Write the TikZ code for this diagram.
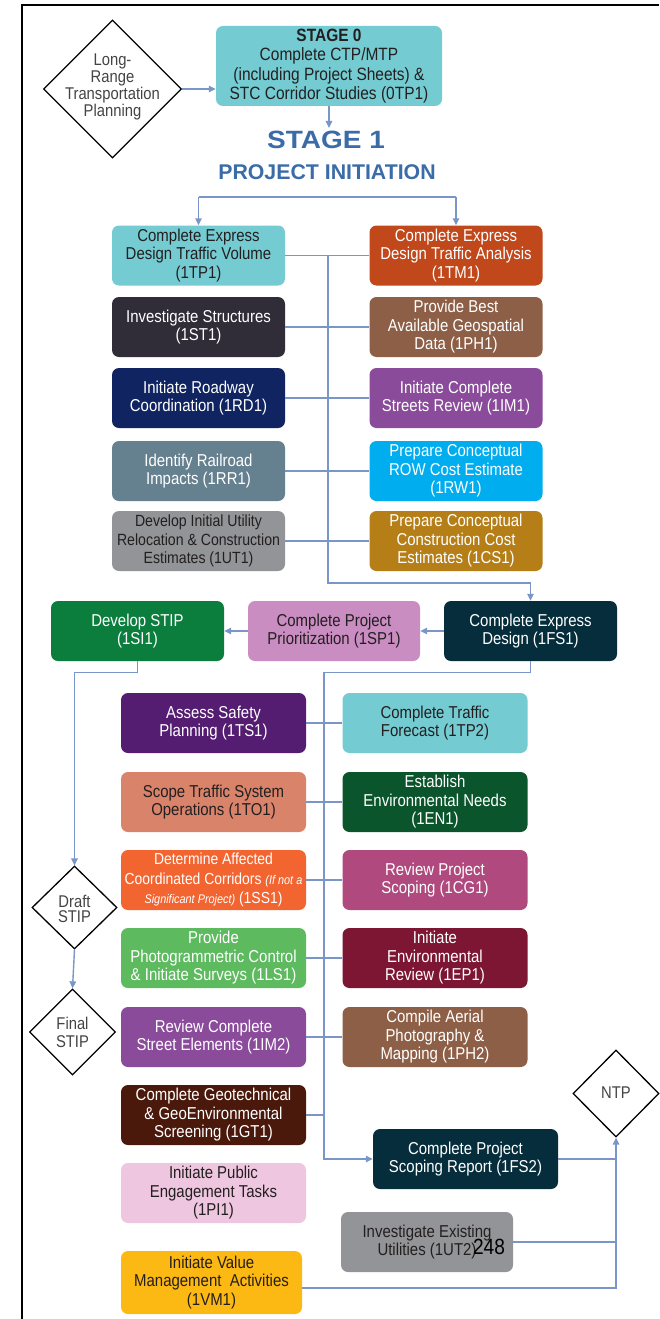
\documentclass[tikz,border=0pt]{standalone}
\usepackage{fontspec}
\setmainfont{Liberation Sans}[FakeStretch=0.87]
\newfontfamily\plainsans{Liberation Sans}
\newfontfamily\widesans{Liberation Sans}[FakeStretch=1.12]
\usetikzlibrary{arrows.meta,shapes.geometric,calc}
\definecolor{conn}{HTML}{7A96C9}
\definecolor{txtdark}{HTML}{231F20}
\definecolor{diatxt}{HTML}{444444}
\definecolor{head}{HTML}{3B6CA8}
\definecolor{cteal}{HTML}{74CCD2}
\definecolor{ctm}{HTML}{C1481B}
\definecolor{cst}{HTML}{302D38}
\definecolor{cph}{HTML}{8E5F47}
\definecolor{crd}{HTML}{0F2461}
\definecolor{cim}{HTML}{8B4B9B}
\definecolor{crr}{HTML}{65808F}
\definecolor{crw}{HTML}{00ADEE}
\definecolor{cgray}{HTML}{939497}
\definecolor{ccs}{HTML}{B57E17}
\definecolor{csi}{HTML}{0B7E3E}
\definecolor{csp}{HTML}{C98DC1}
\definecolor{cfs}{HTML}{062D3C}
\definecolor{cts}{HTML}{541D72}
\definecolor{cto}{HTML}{D9836A}
\definecolor{cen}{HTML}{0A552B}
\definecolor{css}{HTML}{F26531}
\definecolor{ccg}{HTML}{B04A7E}
\definecolor{cls}{HTML}{5DBA5F}
\definecolor{cep}{HTML}{7D1632}
\definecolor{cgt}{HTML}{4A190B}
\definecolor{cpi}{HTML}{EEC6E0}
\definecolor{cvm}{HTML}{FDB913}
\newcommand{\boxfont}{\fontsize{17.2}{18.5}\selectfont}
\begin{document}
\begin{tikzpicture}[x=1pt,y=-1pt,
  box/.style={rectangle, rounded corners=7pt, minimum height=60pt, inner xsep=0pt, inner ysep=2pt, align=center, text=white, font=\boxfont},
  dk/.style={text=txtdark},
  topw/.style={minimum width=173pt},
  loww/.style={minimum width=185pt},
  dia/.style={diamond, draw=black, line width=1.3pt, aspect=1, inner sep=0pt},
  diatext/.style={align=center, text=diatxt, font=\fontsize{17}{17}\selectfont},
  line/.style={draw=conn, line width=1.4pt},
  arr/.style={line, -{Triangle[length=7pt,width=6.5pt]}}
]
\useasboundingbox (0,0) rectangle (659,1319);
\fill[white] (0,0) rectangle (659,1319);
% frame
\draw[line width=2.2pt] (22,1319) -- (22,5) -- (659,5);

% Stage 0
\node[dia, minimum width=138pt, minimum height=138pt] (lrtp) at (112.5,89) {};
\node[diatext] (lrtpt) at (112.5,87) {Long-\\Range\\Transportation\\Planning};
\node[box, dk, fill=cteal, minimum width=226pt, minimum height=80pt, font=\fontsize{17.8}{19.5}\selectfont] (s0) at (329,66)
  {{\bfseries STAGE 0}\\Complete CTP/MTP\\(including Project Sheets) \&\\STC Corridor Studies (0TP1)};
\draw[arr] (lrtp.east) -- (s0.west |- lrtp.east);

\node[text=head, font=\widesans\bfseries\fontsize{25}{28}\selectfont, inner sep=3pt] (s1) at (326,140) {STAGE 1};
\node[text=head, font=\plainsans\bfseries\fontsize{21.3}{24}\selectfont] (pi) at (327,172.5) {PROJECT INITIATION};
\draw[arr] (s0.south) -- (s0.south |- s1.north);

% top columns
\node[box, dk, topw, fill=cteal] (tp1) at (198.5,255.5) {Complete Express\\Design Traffic Volume\\(1TP1)};
\node[box, topw, fill=ctm] (tm1) at (456,255.5) {Complete Express\\Design Traffic Analysis\\(1TM1)};
\node[box, topw, fill=cst] (st1) at (198.5,327) {Investigate Structures\\(1ST1)};
\node[box, topw, fill=cph] (ph1) at (456,327) {Provide Best\\Available Geospatial\\Data (1PH1)};
\node[box, topw, fill=crd] (rd1) at (198.5,398) {Initiate Roadway\\Coordination (1RD1)};
\node[box, topw, fill=cim] (im1) at (456,398) {Initiate Complete\\Streets Review (1IM1)};
\node[box, topw, fill=crr] (rr1) at (198.5,471) {Identify Railroad\\Impacts (1RR1)};
\node[box, topw, fill=crw] (rw1) at (456,471) {Prepare Conceptual\\ROW Cost Estimate\\(1RW1)};
\node[box, dk, topw, fill=cgray, font=\fontsize{16.2}{18.5}\selectfont] (ut1) at (198.5,541) {Develop Initial Utility\\Relocation \& Construction\\Estimates (1UT1)};
\node[box, topw, fill=ccs] (cs1) at (456,541) {Prepare Conceptual\\Construction Cost\\Estimates (1CS1)};

\coordinate (hl) at (198.5,197);
\coordinate (hr) at (456,197);
\draw[line] (hl) -- (hr);
\draw[arr] (hl) -- (tp1.north);
\draw[arr] (hr) -- (tm1.north);

\foreach \a/\b in {tp1/tm1, st1/ph1, rd1/im1, rr1/rw1, ut1/cs1}
  \draw[line] (\a.east) -- (\b.west);

% middle row
\node[box, topw, fill=csi] (si1) at (137.5,631) {Develop STIP\\(1SI1)};
\node[box, dk, minimum width=172pt, fill=csp] (sp1) at (334,631) {Complete Project\\Prioritization (1SP1)};
\node[box, topw, fill=cfs] (fs1) at (530.5,631) {Complete Express\\Design (1FS1)};

\coordinate (t1) at (328,255.5);
\coordinate (t2) at (328,583);
\draw[arr] (t1) -- (t2) -| (fs1.north);
\draw[arr] (fs1.west) -- (sp1.east);
\draw[arr] (sp1.west) -- (si1.east);

% diamonds left
\node[dia, minimum width=85pt, minimum height=83pt] (draft) at (74.5,907.5) {};
\node[diatext, font=\fontsize{17}{15.5}\selectfont] at (74.5,909) {Draft\\STIP};
\node[dia, minimum width=86pt, minimum height=86pt] (final) at (72.5,1032) {};
\node[diatext, font=\fontsize{17}{18}\selectfont] at (72.5,1032) {Final\\STIP};
\draw[arr] (si1.south) -- ++(0,11) -| (draft.north);
\draw[arr] (draft.south) -- (final.north);

% lower columns
\node[box, loww, fill=cts] (ts1) at (213.5,723) {Assess Safety\\Planning (1TS1)};
\node[box, dk, loww, fill=cteal] (tp2) at (435,723) {Complete Traffic\\Forecast (1TP2)};
\node[box, dk, loww, fill=cto] (to1) at (213.5,802) {Scope Traffic System\\Operations (1TO1)};
\node[box, loww, fill=cen] (en1) at (435,802) {Establish\\Environmental Needs\\(1EN1)};
\node[box, loww, fill=css, font=\fontsize{16}{19.5}\selectfont] (ss1) at (213.5,880)
  {Determine Affected\\Coordinated Corridors {\itshape\fontsize{12.5}{14}\selectfont (If not a}\\{\itshape\fontsize{12.5}{14}\selectfont Significant Project)} (1SS1)};
\node[box, loww, fill=ccg] (cg1) at (435,880) {Review Project\\Scoping (1CG1)};
\node[box, loww, fill=cls] (ls1) at (213.5,958) {Provide\\Photogrammetric Control\\\& Initiate Surveys (1LS1)};
\node[box, loww, fill=cep] (ep1) at (435,958) {Initiate\\Environmental\\Review (1EP1)};
\node[box, loww, fill=cim] (im2) at (213.5,1037) {Review Complete\\Street Elements (1IM2)};
\node[box, loww, fill=cph] (ph2) at (435,1037) {Compile Aerial\\Photography \&\\Mapping (1PH2)};
\node[box, loww, fill=cgt] (gt1) at (213.5,1115) {Complete Geotechnical\\\& GeoEnvironmental\\Screening (1GT1)};
\node[box, dk, loww, fill=cpi] (pi1) at (213.5,1193) {Initiate Public\\Engagement Tasks\\(1PI1)};
\node[box, dk, minimum width=181pt, minimum height=63pt, fill=cvm] (vm1) at (211.5,1282.5) {Initiate Value\\Management~ Activities\\(1VM1)};
\node[box, loww, fill=cfs] (fs2) at (465.5,1159) {Complete Project\\Scoping Report (1FS2)};
\node[box, dk, minimum width=172pt, fill=cgray] (ut2) at (427,1242) {Investigate Existing\\Utilities (1UT2)};
\node[dia, minimum width=86pt, minimum height=87pt] (ntp) at (616,1093.5) {};
\node[diatext] at (616,1093) {NTP};

\foreach \a/\b in {ts1/tp2, to1/en1, ss1/cg1, ls1/ep1, im2/ph2}
  \draw[line] (\a.east) -- (\b.west);

\coordinate (lb) at (324,1159);
\draw[arr] (fs1.south) -- ++(0,11) -| (lb) -- (fs2.west);
\draw[line] (gt1.east) -- (gt1.east -| lb);

\draw[arr] ($(vm1.east)+(0,5.5)$) -| (ntp.south);
\draw[line] ($(pi1.east)+(0,3)$) -- ($(pi1.east)+(0,3)$ -| ntp.south);
\draw[line] (ut2.east) -- (ut2.east -| ntp.south);
\draw[line] (fs2.east) -- (fs2.east -| ntp.south);

\node[font=\fontsize{22}{24}\selectfont, text=black, inner sep=0pt] (pg) at (489,1247) {248};
\end{tikzpicture}
\end{document}
